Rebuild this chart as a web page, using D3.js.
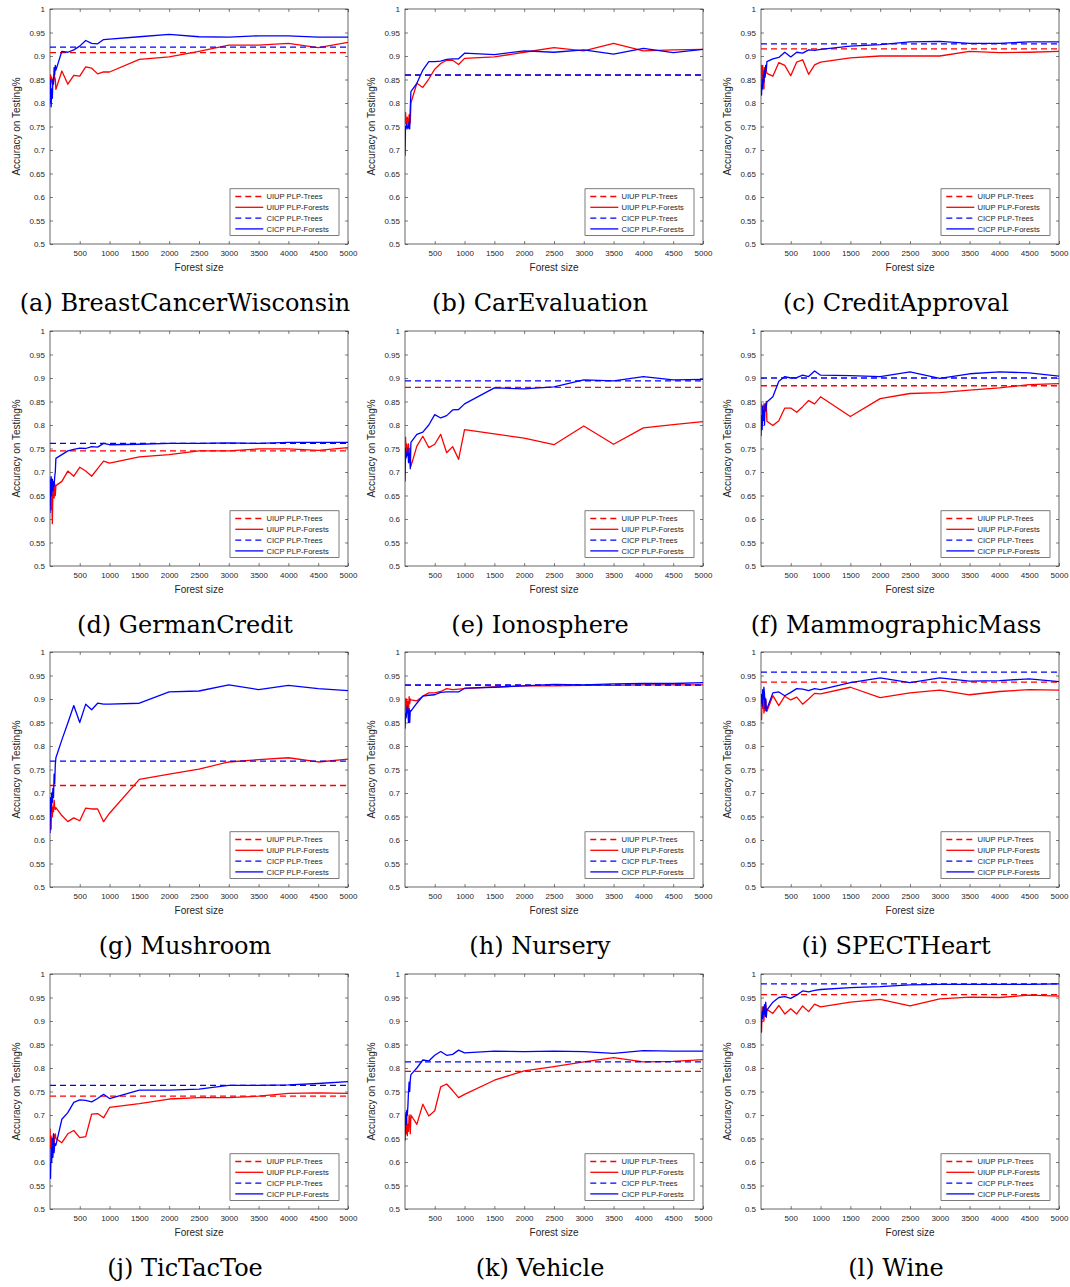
<!DOCTYPE html>
<html><head><meta charset="utf-8">
<script src="https://cdn.jsdelivr.net/npm/d3@7"></script>
<style>
html,body{margin:0;padding:0;background:#fff;}
svg{display:block;}
</style></head>
<body>
<script>
// ---------- data ----------
const datasets = ["BreastCancerWisconsin","CarEvaluation","CreditApproval","GermanCredit","Ionosphere","MammographicMass","Mushroom","Nursery","SPECTHeart","TicTacToe","Vehicle","Wine"];
const captionLetters = ["a","b","c","d","e","f","g","h","i","j","k","l"];
const forestSizes = [1,10,20,30,40,50,60,70,80,90,100,200,300,400,500,600,700,800,900,1000,1500,2000,2500,3000,3500,4000,4500,5000];
const xTicks = [500,1000,1500,2000,2500,3000,3500,4000,4500,5000];
const yTicks = [0.5,0.55,0.6,0.65,0.7,0.75,0.8,0.85,0.9,0.95,1];
const seriesNames = ["UIUP PLP-Trees","UIUP PLP-Forests","CICP PLP-Trees","CICP PLP-Forests"];

const uiupTrees = [0.907,0.859,0.915,0.745,0.880,0.8835,0.716,0.929,0.936,0.740,0.793,0.956];
const cicpTrees = [0.919,0.860,0.926,0.761,0.894,0.900,0.768,0.930,0.957,0.763,0.813,0.979];

const uiupForests = [
 [0.85,0.86,0.845,0.855,0.84,0.85,0.845,0.86,0.855,0.85,0.829,0.868,0.84,0.859,0.857,0.877,0.874,0.862,0.866,0.866,0.893,0.898,0.91,0.923,0.923,0.927,0.918,0.929],
 [0.755,0.78,0.76,0.75,0.77,0.76,0.755,0.775,0.755,0.76,0.80,0.842,0.833,0.851,0.872,0.884,0.891,0.891,0.882,0.895,0.898,0.908,0.918,0.911,0.927,0.911,0.913,0.914],
 [0.85,0.88,0.835,0.88,0.86,0.83,0.875,0.86,0.88,0.87,0.863,0.857,0.886,0.88,0.858,0.887,0.892,0.861,0.881,0.887,0.896,0.9,0.9,0.9,0.91,0.907,0.908,0.91],
 [0.66,0.68,0.62,0.65,0.59,0.66,0.675,0.645,0.675,0.65,0.671,0.68,0.702,0.691,0.71,0.702,0.691,0.707,0.723,0.719,0.732,0.737,0.745,0.745,0.749,0.749,0.746,0.752],
 [0.73,0.774,0.74,0.76,0.745,0.735,0.76,0.74,0.75,0.73,0.712,0.755,0.776,0.752,0.759,0.78,0.741,0.754,0.727,0.79,0.781,0.772,0.758,0.798,0.759,0.794,0.801,0.807],
 [0.83,0.845,0.80,0.84,0.82,0.845,0.83,0.84,0.845,0.85,0.808,0.799,0.809,0.836,0.836,0.827,0.839,0.852,0.845,0.86,0.818,0.856,0.867,0.869,0.874,0.879,0.886,0.888],
 [0.62,0.67,0.623,0.68,0.65,0.67,0.66,0.685,0.67,0.665,0.669,0.652,0.639,0.647,0.641,0.668,0.666,0.666,0.639,0.657,0.729,0.74,0.751,0.766,0.771,0.775,0.766,0.772],
 [0.87,0.90,0.875,0.90,0.88,0.895,0.87,0.905,0.89,0.90,0.898,0.896,0.906,0.913,0.913,0.916,0.922,0.92,0.921,0.922,0.926,0.928,0.928,0.929,0.929,0.93,0.93,0.93],
 [0.87,0.856,0.90,0.88,0.91,0.87,0.905,0.875,0.90,0.875,0.874,0.907,0.886,0.906,0.898,0.904,0.889,0.9,0.912,0.911,0.925,0.903,0.913,0.919,0.909,0.916,0.92,0.919],
 [0.671,0.63,0.655,0.62,0.65,0.64,0.66,0.64,0.655,0.66,0.65,0.641,0.66,0.667,0.652,0.654,0.702,0.703,0.694,0.716,0.724,0.734,0.737,0.737,0.74,0.746,0.747,0.746],
 [0.685,0.705,0.66,0.70,0.656,0.68,0.665,0.70,0.69,0.66,0.70,0.68,0.723,0.698,0.709,0.76,0.766,0.752,0.737,0.744,0.774,0.794,0.803,0.813,0.822,0.813,0.814,0.818],
 [0.90,0.877,0.93,0.91,0.925,0.90,0.93,0.915,0.935,0.92,0.925,0.916,0.933,0.915,0.926,0.915,0.932,0.92,0.936,0.93,0.94,0.946,0.932,0.947,0.951,0.95,0.955,0.953]
];
const cicpForests = [
 [0.80,0.85,0.792,0.83,0.81,0.85,0.84,0.875,0.86,0.88,0.87,0.91,0.908,0.913,0.921,0.933,0.927,0.926,0.935,0.936,0.941,0.946,0.941,0.94,0.943,0.943,0.94,0.94],
 [0.688,0.75,0.745,0.755,0.75,0.745,0.75,0.76,0.745,0.79,0.824,0.842,0.87,0.888,0.888,0.889,0.893,0.894,0.894,0.906,0.903,0.911,0.908,0.913,0.904,0.916,0.907,0.914],
 [0.84,0.817,0.85,0.83,0.86,0.845,0.87,0.855,0.88,0.87,0.888,0.894,0.897,0.908,0.898,0.908,0.906,0.913,0.912,0.914,0.921,0.924,0.93,0.931,0.927,0.927,0.93,0.93],
 [0.613,0.68,0.69,0.65,0.685,0.66,0.68,0.67,0.69,0.70,0.729,0.737,0.745,0.748,0.751,0.75,0.754,0.753,0.761,0.758,0.759,0.761,0.761,0.762,0.761,0.763,0.763,0.763],
 [0.68,0.75,0.73,0.74,0.735,0.75,0.72,0.74,0.73,0.707,0.763,0.78,0.785,0.8,0.822,0.815,0.82,0.832,0.833,0.845,0.879,0.877,0.881,0.896,0.894,0.903,0.896,0.897],
 [0.776,0.82,0.79,0.84,0.81,0.83,0.80,0.845,0.83,0.84,0.849,0.86,0.893,0.903,0.9,0.901,0.906,0.903,0.915,0.906,0.905,0.903,0.913,0.899,0.909,0.913,0.911,0.904],
 [0.615,0.69,0.66,0.70,0.68,0.71,0.69,0.74,0.72,0.76,0.775,0.813,0.849,0.886,0.85,0.889,0.877,0.891,0.889,0.889,0.891,0.915,0.917,0.93,0.92,0.929,0.922,0.918],
 [0.837,0.87,0.86,0.875,0.885,0.87,0.85,0.88,0.85,0.875,0.874,0.891,0.906,0.908,0.909,0.914,0.915,0.915,0.915,0.923,0.925,0.928,0.931,0.93,0.932,0.933,0.933,0.935],
 [0.89,0.91,0.885,0.92,0.90,0.925,0.91,0.88,0.90,0.875,0.879,0.913,0.915,0.907,0.914,0.922,0.921,0.918,0.922,0.92,0.935,0.945,0.935,0.945,0.938,0.939,0.943,0.937],
 [0.60,0.565,0.63,0.60,0.65,0.61,0.66,0.62,0.64,0.635,0.636,0.691,0.705,0.727,0.732,0.731,0.728,0.735,0.744,0.735,0.753,0.753,0.755,0.763,0.763,0.764,0.767,0.771],
 [0.645,0.70,0.68,0.71,0.70,0.72,0.75,0.77,0.75,0.775,0.786,0.8,0.817,0.815,0.827,0.835,0.827,0.829,0.838,0.832,0.836,0.835,0.836,0.835,0.831,0.837,0.836,0.836],
 [0.875,0.90,0.92,0.905,0.93,0.915,0.935,0.91,0.94,0.908,0.923,0.94,0.95,0.952,0.948,0.955,0.964,0.962,0.965,0.967,0.971,0.973,0.977,0.978,0.978,0.978,0.978,0.979]
];

// ---------- layout ----------
const W = 1070, H = 1287;
const colLeft = [50, 405, 761];
const rowTop = [9, 331, 652, 974];
const pw = 298, ph = 235;
const RED = "#ff0000", BLUE = "#0000ff", AX = "#262626";

const svg = d3.select("body").append("svg").attr("width", W).attr("height", H)
  .style("font-family", "'Liberation Sans', Arial, Helvetica, sans-serif");

const x = d3.scaleLinear().domain([1, 5000]).range([0, pw]);
const y = d3.scaleLinear().domain([0.5, 1]).range([ph, 0]);
const line = d3.line().x((d, i) => x(forestSizes[i])).y(d => y(d));

svg.append("defs").append("clipPath").attr("id", "clip")
  .append("rect").attr("x", 0).attr("y", 0).attr("width", pw).attr("height", ph);

datasets.forEach((name, k) => {
  const c = k % 3, r = Math.floor(k / 3);
  const g = svg.append("g").attr("transform", `translate(${colLeft[c]},${rowTop[r]})`);

  // axes (ticks inward, mirrored)
  const tl = 3;
  const xb = g.append("g").attr("transform", `translate(0,${ph})`)
    .call(d3.axisBottom(x).tickValues(xTicks).tickSize(-tl).tickPadding(6).tickSizeOuter(0)
      .tickFormat(d => String(d)));
  const xt = g.append("g")
    .call(d3.axisTop(x).tickValues(xTicks).tickSize(-tl).tickFormat("").tickSizeOuter(0));
  const yl = g.append("g")
    .call(d3.axisLeft(y).tickValues(yTicks).tickSize(-tl).tickPadding(5).tickSizeOuter(0)
      .tickFormat(d => String(+d.toFixed(2))));
  const yr = g.append("g").attr("transform", `translate(${pw},0)`)
    .call(d3.axisRight(y).tickValues(yTicks).tickSize(-tl).tickFormat("").tickSizeOuter(0));
  [xb, xt, yl, yr].forEach(a => {
    a.select(".domain").remove();
    a.selectAll("line").attr("stroke", AX).attr("stroke-width", 0.6);
    a.selectAll("text").attr("fill", AX).style("font-size", "8px")
      .style("font-family", "'Liberation Sans', Arial, sans-serif");
  });
  g.append("rect").attr("width", pw).attr("height", ph)
    .attr("fill", "none").attr("stroke", AX).attr("stroke-width", 0.7);

  // labels
  g.append("text").attr("x", pw / 2).attr("y", ph + 27).attr("text-anchor", "middle")
    .attr("fill", AX).style("font-size", "10px").text("Forest size");
  g.append("text").attr("transform", `translate(-30,${ph / 2}) rotate(-90)`)
    .attr("text-anchor", "middle").attr("fill", AX).style("font-size", "10px")
    .text("Accuracy on Testing%");

  // series
  const p = g.append("g").attr("clip-path", "url(#clip)");
  const series = [
    {vals: forestSizes.map(() => uiupTrees[k]), color: RED, dash: "6,4"},
    {vals: uiupForests[k], color: RED, dash: null},
    {vals: forestSizes.map(() => cicpTrees[k]), color: BLUE, dash: "6,4"},
    {vals: cicpForests[k], color: BLUE, dash: null}
  ];
  series.forEach(s => {
    p.append("path").datum(s.vals).attr("d", line)
      .attr("fill", "none").attr("stroke", s.color).attr("stroke-width", 1.3)
      .attr("stroke-linejoin", "round")
      .attr("stroke-dasharray", s.dash);
  });

  // legend
  const lw = 109, lh = 46.5;
  const lg = g.append("g").attr("transform", `translate(${pw - 9 - lw},${ph - 8.7 - lh})`);
  lg.append("rect").attr("width", lw).attr("height", lh)
    .attr("fill", "#fff").attr("stroke", AX).attr("stroke-width", 0.6);
  seriesNames.forEach((nm, i) => {
    const yy = 7.7 + i * 10.8;
    lg.append("line").attr("x1", 5.3).attr("x2", 33.3).attr("y1", yy).attr("y2", yy)
      .attr("stroke", series[i].color).attr("stroke-width", 1.3)
      .attr("stroke-dasharray", series[i].dash);
    lg.append("text").attr("x", 36.5).attr("y", yy + 2.8).attr("fill", AX)
      .style("font-size", "7.6px").text(nm);
  });

  // caption
  svg.append("text")
    .attr("x", colLeft[c] + pw / 2 - 14).attr("y", rowTop[r] + 302)
    .attr("text-anchor", "middle")
    .style("font-family", "'DejaVu Serif', 'Liberation Serif', serif")
    .style("font-size", "24px").attr("fill", "#000")
    .text(`(${captionLetters[k]}) ${name}`);
});
</script>
</body></html>
